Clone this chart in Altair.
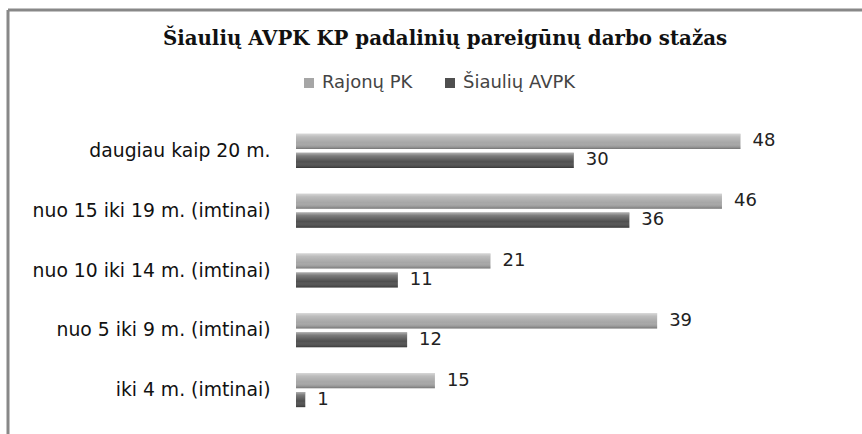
import altair as alt
import pandas as pd

title_text = ["Šiaulių AVPK KP padalinių pareigūnų  darbo stažas"]
categories = ["daugiau kaip 20 m.", "nuo 15 iki 19 m. (imtinai)", "nuo 10 iki 14 m. (imtinai)",
              "nuo 5 iki 9 m. (imtinai)", "iki 4 m. (imtinai)"]
series = ["Rajonų PK", "Šiaulių AVPK"]
rajonu_pk = [48, 46, 21, 39, 15]
siauliu_avpk = [30, 36, 11, 12, 1]
colors = ["#a6a6a6", "#4f4f4f"]

rows = []
for c, a, b in zip(categories, rajonu_pk, siauliu_avpk):
    rows.append({"cat": c, "ser": series[0], "val": a})
    rows.append({"cat": c, "ser": series[1], "val": b})
df = pd.DataFrame(rows)

W, H = 463, 299
PL, PT = 296, 121
FONT = "DejaVu Sans"

y_enc = alt.Y("cat:N", sort=categories,
              scale=alt.Scale(paddingInner=0.43, paddingOuter=0.215),
              axis=alt.Axis(title=None, ticks=False, domain=False, labelFontSize=18.8,
                            labelFont=FONT, labelColor="#111111", labelPadding=26,
                            labelLimit=400))
yoff = alt.YOffset("ser:N", sort=series, scale=alt.Scale(domain=series, paddingInner=0.2, paddingOuter=0))
x_enc = alt.X("val:Q", scale=alt.Scale(domain=[0, 50]), axis=None)

base = alt.Chart(df)

bars = base.mark_bar(cornerRadius=0).encode(
    x=x_enc, y=y_enc, yOffset=yoff,
    color=alt.Color("ser:N", sort=series, scale=alt.Scale(domain=series, range=colors),
                    legend=alt.Legend(title=None, orient="none", legendX=4, legendY=-47,
                                      direction="horizontal", symbolType="square", symbolSize=100,
                                      labelFontSize=18, labelFont=FONT, labelColor="#444444",
                                      columnPadding=28, symbolStrokeWidth=0, labelOffset=4))
)

shade = base.mark_bar(
    fill=alt.Gradient(gradient="linear", x1=0, x2=0, y1=0, y2=1,
                      stops=[alt.GradientStop(color="rgba(255,255,255,0.55)", offset=0),
                             alt.GradientStop(color="rgba(255,255,255,0.25)", offset=0.2),
                             alt.GradientStop(color="rgba(255,255,255,0.0)", offset=0.6),
                             alt.GradientStop(color="rgba(0,0,0,0.3)", offset=1)])
).encode(x=x_enc, y=alt.Y("cat:N", sort=categories), yOffset=yoff)

labels = base.mark_text(align="left", baseline="middle", dx=12, fontSize=18,
                        font=FONT, color="#222222").encode(
    x=x_enc, y=alt.Y("cat:N", sort=categories), yOffset=yoff, text="val:Q")

frame_df = pd.DataFrame({"a": [0]})
top_line = alt.Chart(frame_df).mark_rule(color="#888888", strokeWidth=3).encode(
    x=alt.value(8 - PL), x2=alt.value(862 - PL), y=alt.value(10 - PT))
left_line = alt.Chart(frame_df).mark_rule(color="#888888", strokeWidth=3).encode(
    x=alt.value(8 - PL), y=alt.value(10 - PT), y2=alt.value(434 - PT))

title = alt.Chart(pd.DataFrame({"t": title_text})).mark_text(
    font="DejaVu Serif", fontSize=19.8, fontWeight="bold", color="#111111",
    align="center", baseline="middle").encode(
    text="t:N", x=alt.value(445 - PL), y=alt.value(39 - PT))

chart = alt.layer(top_line, left_line, title, bars, shade, labels).properties(
    width=W, height=H,
    autosize=alt.AutoSizeParams(type="none"),
    padding={"left": PL, "top": PT, "right": 862 - PL - W, "bottom": 434 - PT - H},
    view=alt.ViewBackground(stroke="transparent", strokeWidth=0),
).configure_view(stroke="transparent", strokeWidth=0).configure(background="white")

chart.save("out.html", embed_options={"renderer": "svg", "actions": False})
